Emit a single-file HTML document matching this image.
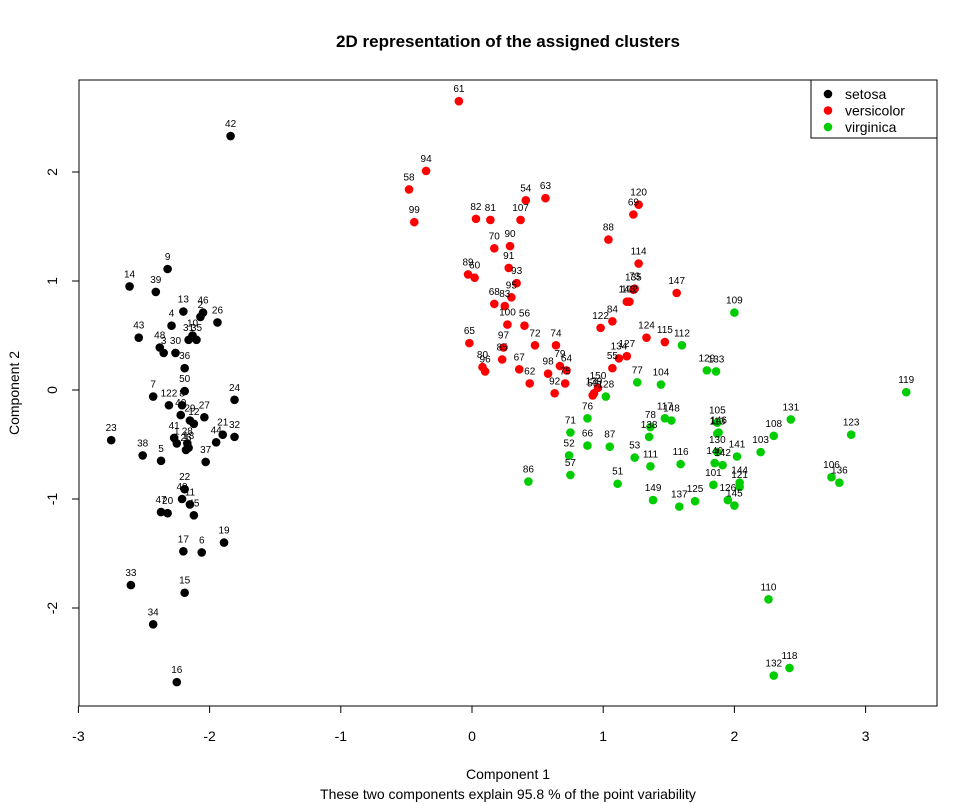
<!DOCTYPE html>
<html><head><meta charset="utf-8"><style>
body{margin:0;background:#fff;}
svg{display:block;font-family:"Liberation Sans",Arial,sans-serif;}
</style></head><body>
<svg id="chart" width="978" height="804"></svg>
<script>
const labels = [42,9,14,39,13,46,2,26,4,31,10,35,43,48,3,30,36,50,7,24,122,8,40,29,27,12,21,32,44,41,1,28,18,23,38,5,37,22,49,11,47,20,45,19,17,6,33,15,34,16,25,
61,94,58,54,63,120,69,82,81,107,99,88,90,70,114,91,89,60,93,73,147,95,68,83,135,102,143,84,100,56,122,124,115,65,72,74,97,127,134,85,80,96,67,79,64,98,75,55,62,92,150,139,59,
128,77,104,112,109,129,133,119,123,106,136,110,118,132,86,76,71,66,87,52,57,117,148,78,138,53,111,116,51,149,137,125,105,146,113,130,140,142,141,103,108,131,101,144,121,126,145];
const xs = [-1.84,-2.32,-2.61,-2.41,-2.20,-2.05,-2.07,-1.94,-2.29,-2.16,-2.13,-2.10,-2.54,-2.38,-2.35,-2.26,-2.19,-2.19,-2.43,-1.81,-2.31,-2.21,-2.22,-2.15,-2.04,-2.12,-1.90,-1.81,-1.95,-2.27,-2.25,-2.17,-2.16,-2.75,-2.51,-2.37,-2.03,-2.19,-2.21,-2.15,-2.37,-2.32,-2.12,-1.89,-2.20,-2.06,-2.60,-2.19,-2.43,-2.25,-2.18,
-0.10,-0.35,-0.48,0.41,0.56,1.27,1.23,0.03,0.14,0.37,-0.44,1.04,0.29,0.17,1.27,0.28,-0.03,0.02,0.34,1.24,1.56,0.30,0.17,0.25,1.23,1.20,1.18,1.07,0.27,0.40,0.98,1.33,1.47,-0.02,0.48,0.64,0.24,1.18,1.12,0.23,0.08,0.10,0.36,0.67,0.72,0.58,0.71,1.07,0.44,0.63,0.96,0.93,0.92,
1.02,1.26,1.44,1.60,2.00,1.79,1.86,3.31,2.89,2.74,2.80,2.26,2.42,2.30,0.43,0.88,0.75,0.88,1.05,0.74,0.75,1.47,1.52,1.36,1.35,1.24,1.36,1.59,1.11,1.38,1.58,1.70,1.87,1.88,1.87,1.87,1.85,1.91,2.02,2.20,2.30,2.43,1.84,2.04,2.04,1.95,2.00];
const ys = [2.33,1.11,0.95,0.90,0.72,0.71,0.67,0.62,0.59,0.46,0.50,0.46,0.48,0.39,0.34,0.34,0.20,-0.01,-0.06,-0.09,-0.14,-0.14,-0.23,-0.28,-0.25,-0.31,-0.41,-0.43,-0.48,-0.44,-0.49,-0.49,-0.53,-0.46,-0.60,-0.65,-0.66,-0.91,-1.00,-1.05,-1.12,-1.13,-1.15,-1.40,-1.48,-1.49,-1.79,-1.86,-2.15,-2.68,-0.55,
2.65,2.01,1.84,1.74,1.76,1.70,1.61,1.57,1.56,1.56,1.54,1.38,1.32,1.30,1.16,1.12,1.06,1.03,0.98,0.93,0.89,0.85,0.79,0.77,0.92,0.81,0.81,0.63,0.60,0.59,0.57,0.48,0.44,0.43,0.41,0.41,0.39,0.31,0.29,0.28,0.21,0.17,0.19,0.22,0.18,0.15,0.06,0.20,0.06,-0.03,0.02,-0.03,-0.05,
-0.06,0.07,0.05,0.41,0.71,0.18,0.17,-0.02,-0.41,-0.80,-0.85,-1.92,-2.55,-2.62,-0.84,-0.26,-0.39,-0.51,-0.52,-0.60,-0.78,-0.26,-0.28,-0.34,-0.43,-0.62,-0.70,-0.68,-0.86,-1.01,-1.07,-1.02,-0.30,-0.39,-0.40,-0.57,-0.67,-0.69,-0.61,-0.57,-0.42,-0.27,-0.87,-0.85,-0.89,-1.01,-1.06];
const clusterSizes = [51,53,47];
const clusterNames = ["setosa","versicolor","virginica"];
const clusterColors = ["#000000","#ff0000","#00cd00"];
const xTicks = [-3,-2,-1,0,1,2,3];
const yTicks = [-2,-1,0,1,2];

const NS="http://www.w3.org/2000/svg";
const svg=document.getElementById('chart');
const L=79,R=937,T=80,B=706;
const sx=v=>472+v*131.2;
const sy=v=>390-v*109;
function mk(tag,attrs,text){const e=document.createElementNS(NS,tag);for(const k in attrs)e.setAttribute(k,attrs[k]);if(text!==undefined)e.textContent=text;svg.appendChild(e);return e;}

let t=mk('text',{x:508,y:47,'text-anchor':'middle','font-size':17,'font-weight':'bold'},'2D representation of the assigned clusters');



let box=mk('rect',{x:L,y:T,width:R-L,height:B-T,fill:'none',stroke:'#000','stroke-width':1});



let xa=mk('line',{x1:sx(xTicks[0]),x2:sx(xTicks[xTicks.length-1]),y1:B,y2:B,stroke:'#000'});


xTicks.forEach(v=>{
  const l=mk('line',{x1:sx(v),x2:sx(v),y1:B,y2:B+7,stroke:'#000'});
  
  
  const tt=mk('text',{x:sx(v),y:741,'text-anchor':'middle','font-size':14},String(v));
  
  
});
let ya=mk('line',{x1:L,x2:L,y1:sy(yTicks[0]),y2:sy(yTicks[yTicks.length-1]),stroke:'#000'});


yTicks.forEach(v=>{
  const l=mk('line',{x1:L-7,x2:L,y1:sy(v),y2:sy(v),stroke:'#000'});
  
  
  const tt=mk('text',{x:57,y:sy(v),'text-anchor':'middle','font-size':14,transform:`rotate(-90 57 ${sy(v)})`},String(v));
  
  
});
t=mk('text',{x:508,y:779,'text-anchor':'middle','font-size':14},'Component 1');


t=mk('text',{x:508,y:799,'text-anchor':'middle','font-size':14},'These two components explain 95.8 % of the point variability');


t=mk('text',{x:19,y:393,'text-anchor':'middle','font-size':14,transform:'rotate(-90 19 393)'},'Component 2');



let idx=0;
clusterSizes.forEach((n,c)=>{
  for(let i=0;i<n;i++,idx++){
    const p=mk('circle',{cx:sx(xs[idx]),cy:sy(ys[idx]),r:4.3,fill:clusterColors[c]});
    
    
    const lb=mk('text',{x:sx(xs[idx]),y:sy(ys[idx])-9,'text-anchor':'middle','font-size':10},String(labels[idx]));
    
    
  }
});

let lg=mk('rect',{x:811,y:80,width:126,height:58,fill:'#fff',stroke:'#000'});


clusterNames.forEach((nm,c)=>{
  const y=94+c*16.5;
  const d=mk('circle',{cx:828,cy:y,r:4.3,fill:clusterColors[c]});
  
  
  const tx=mk('text',{x:845,y:y+5,'font-size':14},nm);
  
  
});
</script>
</body></html>
